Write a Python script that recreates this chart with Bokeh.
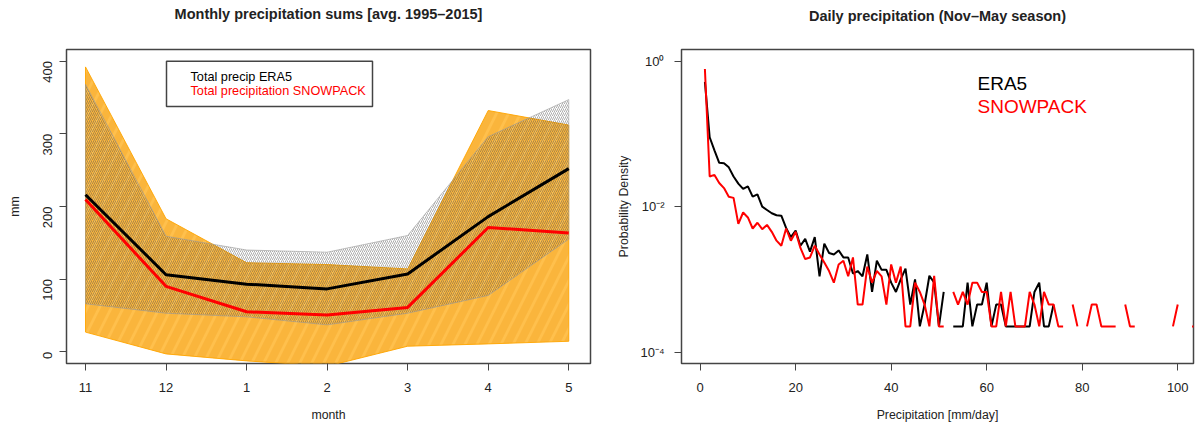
import math
from bokeh.plotting import figure
from bokeh.layouts import row
from bokeh.models import Range1d, FixedTicker, Label, BoxAnnotation, Title
from bokeh.embed import file_html
from bokeh.resources import INLINE

nan = float("nan")

# ---------------- Left panel data: monthly precipitation sums ----------------
months = ["11", "12", "1", "2", "3", "4", "5"]
era5_mean = [216, 106, 93, 86.5, 107, 186, 252]
snow_mean = [209.5, 90, 55, 50.5, 61, 171, 163.5]
era5_upper = [368, 159, 140, 137, 160, 296, 347]
era5_lower = [66, 53, 48, 37, 53, 77.5, 155]
snow_upper = [392, 183, 122.5, 120, 114, 332, 312]
snow_lower = [27, -3, -12.6, -20, 7.6, 10.8, 14.4]
mm_ticks = [0, 100, 200, 300, 400]

# ---------------- Right panel data: daily precipitation PDF ----------------
era5_density = [
    0.52, 0.090, 0.0595, 0.040, 0.0394, 0.0347, 0.026, 0.0207, 0.0175, 0.019,
    0.0137, 0.0147, 0.0100, 0.0090, 0.0081, 0.0076, 0.0075, 0.0051, 0.0038, 0.0047,
    0.0029, 0.0036, 0.0024, 0.0038, 0.0011, 0.0031, 0.0023, 0.0022, 0.0025, 0.0020,
    0.0020, 0.0012, 0.0013, 0.0011, 0.0022, 0.00067, 0.0018, 0.00135, 0.00135, 0.0009,
    0.00067, 0.0010, 0.0014, 0.00045, 0.0010, 0.000225, 0.00045, 0.00112, 0.0009, 0.000225,
    0.00067, nan, 0.000225, 0.000225, 0.000225, 0.0009, 0.000225, 0.00045, 0.00045, 0.0009,
    0.000225, 0.00045, 0.00045, 0.000225, 0.000225, 0.000225, 0.000225, 0.000225, 0.000225, 0.00067,
    0.0009, 0.000225, 0.000225, 0.00045,
]
snow_density = [
    0.78, 0.026, 0.0273, 0.0211, 0.018, 0.0137, 0.0132, 0.0058, 0.0083, 0.0071,
    0.0050, 0.0060, 0.0049, 0.0056, 0.0045, 0.0034, 0.0029, 0.0050, 0.0034, 0.0045,
    0.0027, 0.0019, 0.0020, 0.0029, 0.0022, 0.0017, 0.0013, 0.0009, 0.0016, 0.0018,
    0.0011, 0.0020, 0.00045, 0.00045, 0.0015, 0.0009, 0.0013, 0.0011, 0.00045, 0.0016,
    0.0009, 0.0015, 0.000225, 0.000225, 0.0009, 0.00067, 0.00045, 0.000225, 0.00112, 0.000225,
    0.000225, nan, 0.00067, 0.00045, 0.00067, 0.00045, 0.0009, 0.0009, 0.00067, 0.00067,
    0.000225, 0.000225, 0.00067, 0.000225, 0.00067, 0.000225, 0.000225, 0.000225, 0.00067, 0.00045,
    0.000225, 0.00067, 0.00045, 0.00045, 0.000225, 0.000225, nan, 0.00045, 0.000225, nan,
    0.000225, 0.00045, 0.00045, 0.000225, 0.000225, 0.000225, 0.000225, nan, 0.00045, 0.000225,
    0.000225, nan, nan, nan, nan, nan, nan, nan, 0.000225, 0.00045,
    nan, nan, 0.000225, 0.000225,
]
era5_bins = list(range(1, len(era5_density) + 1))
snow_bins = list(range(1, len(snow_density) + 1))
precip_ticks = [0, 20, 40, 60, 80, 100]
density_ticks = [1e-4, 1e-2, 1]
density_tick_labels = {1e-4: "10\u207b\u2074", 1e-2: "10\u207b\u00b2", 1: "10\u2070"}

FONT = "Liberation Sans"
TXT = "#222222"
BOX = "#444444"

# ---------------- layout geometry (pixels) ----------------
L_W, R_W, H = 600, 595, 424
L_FRAME = (66, 590, 46, 366)     # left, right, top, bottom
R_FRAME = (681, 1193, 49, 369)   # in page pixels (right figure starts at x=600)
L_XR = (-0.236, 6.27)
L_YR = (-16.2, 416)
R_XR = (-3.9, 103.3)
R_YR = (6.95e-5, 1.45)


def lx(px):
    return L_XR[0] + (px - L_FRAME[0]) / (L_FRAME[1] - L_FRAME[0]) * (L_XR[1] - L_XR[0])


def ly(py):
    return L_YR[1] - (py - L_FRAME[2]) / (L_FRAME[3] - L_FRAME[2]) * (L_YR[1] - L_YR[0])


def rx(px):
    return R_XR[0] + (px - R_FRAME[0]) / (R_FRAME[1] - R_FRAME[0]) * (R_XR[1] - R_XR[0])


def ry(py):
    a, b = math.log10(R_YR[0]), math.log10(R_YR[1])
    return 10 ** (b - (py - R_FRAME[2]) / (R_FRAME[3] - R_FRAME[2]) * (b - a))


def style(p):
    p.grid.visible = False
    p.outline_line_color = BOX
    p.outline_line_width = 1.5
    p.background_fill_color = "white"
    p.border_fill_color = "white"
    for ax in p.axis:
        ax.axis_line_color = None
        ax.major_tick_line_color = BOX
        ax.major_tick_line_width = 1
        ax.major_tick_out = 7
        ax.major_tick_in = 0
        ax.minor_tick_line_color = None
        ax.major_label_text_font = FONT
        ax.major_label_text_font_size = "13px"
        ax.major_label_text_color = TXT
        ax.axis_label_text_font = FONT
        ax.axis_label_text_font_size = "12.3px"
        ax.axis_label_text_font_style = "normal"
        ax.axis_label_text_color = TXT


def add_title(p, s, spacer):
    # spacer title (closest to the frame) pushes the real title towards the top
    p.add_layout(Title(text=" ", text_font_size="12px", standoff=spacer), "above")
    p.add_layout(Title(text=s, align="center", standoff=0, text_font=FONT,
                       text_font_size="14.5px", text_font_style="bold", text_color=TXT), "above")


def text(p, x, y, s, size, color=TXT, align="left"):
    p.add_layout(Label(x=x, y=y, text=s, text_align=align, text_baseline="middle",
                       text_font=FONT, text_font_size=size, text_color=color))


# ---------------- Left figure ----------------
p1 = figure(width=L_W, height=H, output_backend="svg", toolbar_location=None,
            x_range=Range1d(*L_XR), y_range=Range1d(*L_YR),
            min_border_left=L_FRAME[0], min_border_right=L_W - L_FRAME[1],
            min_border_top=L_FRAME[2], min_border_bottom=H - L_FRAME[3],
            x_axis_label="month", y_axis_label="mm")
style(p1)
add_title(p1, "Monthly precipitation sums [avg. 1995\u20132015]", 12)

xi = list(range(len(months)))
p1.patch(xi + xi[::-1], snow_upper + snow_lower[::-1],
         fill_color="#FFA500", fill_alpha=0.7, line_color="#FFA500", line_alpha=0.9, line_width=1,
         hatch_pattern="/", hatch_color="#F0A020", hatch_alpha=0.35, hatch_scale=24, hatch_weight=8)
p1.patch(xi + xi[::-1], era5_upper + era5_lower[::-1],
         fill_alpha=0, line_color="#999999", line_alpha=0.6, line_width=1,
         hatch_pattern="/", hatch_color="#555555", hatch_alpha=0.6, hatch_scale=4, hatch_weight=0.8)
p1.line(xi, era5_mean, line_color="black", line_width=3)
p1.line(xi, snow_mean, line_color="#FF0000", line_width=3)

p1.xaxis.ticker = FixedTicker(ticks=xi)
p1.xaxis.major_label_overrides = {i: m for i, m in enumerate(months)}
p1.xaxis.major_label_standoff = 12
p1.xaxis.axis_label_standoff = 13
p1.yaxis.ticker = FixedTicker(ticks=mm_ticks)
p1.yaxis.major_label_orientation = math.pi / 2
p1.yaxis.major_label_standoff = 12
p1.yaxis.axis_label_standoff = 14

p1.add_layout(BoxAnnotation(left=lx(166), right=lx(372), bottom=ly(104), top=ly(58),
                            fill_color="white", fill_alpha=1.0,
                            line_color=BOX, line_width=1.5, line_alpha=1.0))
text(p1, lx(190), ly(74), "Total precip ERA5", "12.7px", color="black")
text(p1, lx(190), ly(88.7), "Total precipitation SNOWPACK", "12.7px", color="#FF0000")

# ---------------- Right figure ----------------
off = L_W
p2 = figure(width=R_W, height=H, output_backend="svg", toolbar_location=None,
            y_axis_type="log", x_range=Range1d(*R_XR), y_range=Range1d(*R_YR),
            min_border_left=R_FRAME[0] - off, min_border_right=off + R_W - R_FRAME[1],
            min_border_top=R_FRAME[2], min_border_bottom=H - R_FRAME[3],
            x_axis_label="Precipitation [mm/day]", y_axis_label="Probability Density")
style(p2)
add_title(p2, "Daily precipitation (Nov\u2013May season)", 10)

p2.line(era5_bins, era5_density, line_color="black", line_width=2)
p2.line(snow_bins, snow_density, line_color="#FF0000", line_width=2)

p2.xaxis.ticker = FixedTicker(ticks=precip_ticks)
p2.xaxis.major_label_standoff = 12
p2.xaxis.axis_label_standoff = 13
p2.yaxis.ticker = FixedTicker(ticks=density_ticks)
p2.yaxis.major_label_overrides = density_tick_labels
p2.yaxis.major_label_standoff = 10
p2.yaxis.axis_label_standoff = 6

text(p2, rx(977), ry(84), "ERA5", "19px", color="black")
text(p2, rx(977), ry(107), "SNOWPACK", "19px", color="#FF0000")

layout = row(p1, p2)
open("out.html", "w").write(file_html(layout, INLINE))
